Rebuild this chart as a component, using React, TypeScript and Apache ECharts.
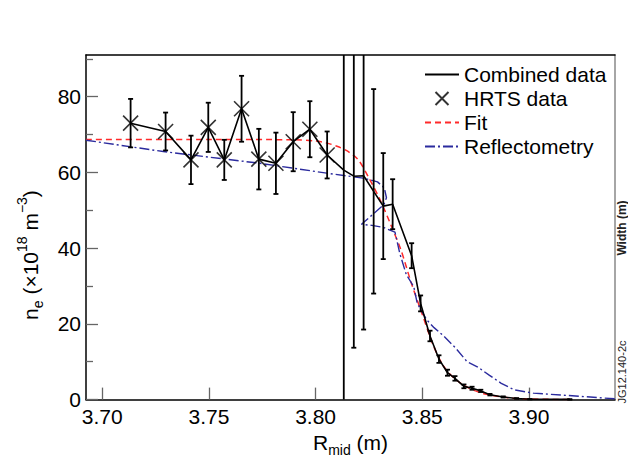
import React, { useEffect, useRef } from "react";
import * as echarts from "echarts";

const FONT = '"Liberation Sans", Arial, Helvetica, sans-serif';

const X_MIN = 3.6924;
const X_MAX = 3.9403;
const Y_MAX = 91;

const xTicks = [3.7, 3.75, 3.8, 3.85, 3.9];
const yTicks = [0, 20, 40, 60, 80];
const yMinorTicks = [10, 30, 50, 70, 90];

// HRTS data (crosses)
const hrtsR = [3.7133, 3.7297, 3.7416, 3.7497, 3.7572, 3.7653, 3.7734, 3.7814, 3.7895, 3.7973, 3.8054];
const hrtsNe = [73.0, 70.8, 63.3, 71.9, 63.3, 76.8, 63.5, 62.4, 68.1, 71.4, 64.6];
const hrtsErr = [6.4, 5.0, 6.4, 6.5, 5.3, 8.7, 8.0, 8.1, 7.8, 7.4, 6.2];

// Combined data beyond the HRTS crosses
const combR = [3.8132, 3.8179, 3.8225, 3.8272, 3.8317, 3.8361, 3.845, 3.8492, 3.8536, 3.8578, 3.8618, 3.8653, 3.8695, 3.8733, 3.8774, 3.8817, 3.8879, 3.8942, 3.9004, 3.9191];
const combNe = [60.6, 59.0, 59.1, 55.0, 51.1, 51.6, 38.0, 25.4, 16.8, 10.7, 7.1, 5.6, 3.5, 3.0, 2.3, 1.3, 0.7, 0.3, 0.1, 0.05];
const combErr = [120, 45.3, 40.6, 27.0, 14.0, 6.6, 3.3, 2.1, 1.4, 1.0, 0.8, 0.6, 0.5, 0.4, 0.3, 0.2, 0.15, 0.1, 0.05, 0.05];

// Fit
const fitR = [3.6924, 3.75, 3.79, 3.8, 3.805, 3.81, 3.815, 3.82, 3.825, 3.83, 3.835, 3.84, 3.845, 3.85, 3.855, 3.86, 3.865, 3.87, 3.875, 3.88, 3.89, 3.9, 3.92];
const fitNe = [68.7, 68.7, 68.6, 68.3, 67.8, 66.9, 65.6, 63.3, 58.5, 53.0, 46.5, 39.5, 30.5, 22.5, 14.5, 8.8, 5.6, 3.6, 2.3, 1.4, 0.5, 0.15, 0.02];

// Reflectometry
const reflR = [3.6924, 3.7286, 3.7739, 3.8052, 3.8223, 3.829, 3.8322, 3.8332, 3.832, 3.8278, 3.8215, 3.8264, 3.8317, 3.8372, 3.8381, 3.8395, 3.8425, 3.846, 3.8476, 3.852, 3.8555, 3.86, 3.8655, 3.871, 3.876, 3.8815, 3.887, 3.893, 3.902, 3.918, 3.9403];
const reflNe = [68.5, 65.5, 62.4, 59.8, 58.5, 57.5, 55.9, 53.3, 51.5, 49.4, 46.3, 46.0, 45.5, 44.2, 42.0, 38.5, 33.0, 29.8, 25.5, 21.1, 19.0, 16.8, 13.7, 10.0, 8.6, 6.4, 4.3, 2.6, 1.7, 1.1, 0.2];

const zip = (a: number[], b: number[]) => a.map((v, i) => [v, b[i]]);
const zip3 = (a: number[], b: number[], c: number[]) => a.map((v, i) => [v, b[i], c[i]]);

const CROSS = "path://M0,0L10,10M10,0L0,10";
const HIDDEN_SYMBOL = { color: "rgba(0,0,0,0)", borderColor: "rgba(0,0,0,0)", borderWidth: 0 };

export default function App() {
  const ref = useRef<HTMLDivElement>(null);
  useEffect(() => {
    const chart = echarts.init(ref.current!, null, { renderer: "svg" });
    const combinedLine = zip(hrtsR, hrtsNe).concat(zip(combR, combNe));
    const errData = zip3(hrtsR, hrtsNe, hrtsErr).concat(zip3(combR, combNe, combErr));
    const mainRich = {
      n: { fontSize: 21, lineHeight: 30, verticalAlign: "middle", fontFamily: FONT, color: "#000" },
      s: { fontSize: 14, lineHeight: 14, verticalAlign: "bottom", fontFamily: FONT, color: "#000" },
      p: { fontSize: 14, lineHeight: 14, verticalAlign: "top", fontFamily: FONT, color: "#000" },
    };
    const option: any = {
      animation: false,
      backgroundColor: "#fff",
      grid: { left: 86, right: 13, top: 55, bottom: 57, containLabel: false },
      legend: {
        orient: "vertical",
        left: 419,
        top: 59,
        itemWidth: 34,
        itemHeight: 13,
        itemGap: 3,
        textStyle: { fontSize: 21, lineHeight: 21, fontFamily: FONT, color: "#000" },
        data: [
          { name: "Combined data", itemStyle: HIDDEN_SYMBOL },
          { name: "HRTS data" },
          { name: "Fit", itemStyle: HIDDEN_SYMBOL },
          { name: "Reflectometry", itemStyle: HIDDEN_SYMBOL },
        ],
      },
      xAxis: [
        {
          type: "value",
          min: X_MIN,
          max: X_MAX,
          name: "{n|R}{s|mid}{n| (m)}",
          nameLocation: "middle",
          nameGap: 22,
          nameTextStyle: { rich: mainRich },
          axisLine: { onZero: false, lineStyle: { color: "#000", width: 1.5 } },
          axisTick: { inside: true, length: 12, customValues: xTicks, lineStyle: { color: "#666", width: 1.3 } },
          axisLabel: {
            customValues: xTicks,
            margin: 6,
            fontSize: 21,
            fontFamily: FONT,
            color: "#000",
            formatter: (v: number) => v.toFixed(2),
          },
          splitLine: { show: false },
        },
        {
          type: "value",
          position: "top",
          min: X_MIN,
          max: X_MAX,
          axisLine: { onZero: false, lineStyle: { color: "#000", width: 1.5 } },
          axisTick: { show: false },
          axisLabel: { show: false },
          splitLine: { show: false },
        },
      ],
      yAxis: [
        {
          type: "value",
          min: 0,
          max: Y_MAX,
          axisLine: { show: true, onZero: false, lineStyle: { color: "#000", width: 1.5 } },
          axisTick: { inside: true, length: 12, customValues: yTicks, lineStyle: { color: "#666", width: 1.3 } },
          axisLabel: { customValues: yTicks, margin: 5, fontSize: 21, fontFamily: FONT, color: "#000" },
          splitLine: { show: false },
        },
        {
          type: "value",
          position: "right",
          min: 0,
          max: Y_MAX,
          axisLine: { show: true, onZero: false, lineStyle: { color: "#888", width: 1.5 } },
          axisTick: { show: false },
          axisLabel: { show: false },
          splitLine: { show: false },
        },
        {
          type: "value",
          position: "left",
          min: 0,
          max: Y_MAX,
          axisLine: { show: false },
          axisTick: { show: true, inside: true, length: 7, customValues: yMinorTicks, lineStyle: { color: "#666", width: 1.3 } },
          axisLabel: { show: false },
          splitLine: { show: false },
        },
      ],
      series: [
        {
          name: "Fit",
          type: "line",
          data: zip(fitR, fitNe),
          symbol: "none",
          smooth: 0.3,
          lineStyle: { color: "#ff2a2a", width: 1.5, type: [6, 4] },
          itemStyle: { color: "#ff2a2a" },
          z: 2,
        },
        {
          name: "Reflectometry",
          type: "line",
          data: zip(reflR, reflNe),
          symbol: "none",
          lineStyle: { color: "#2b2b9e", width: 1.4, type: [10, 3, 2, 3] },
          itemStyle: { color: "#2b2b9e" },
          z: 2,
        },
        {
          name: "Combined data",
          type: "line",
          data: combinedLine,
          symbol: "none",
          lineStyle: { color: "#000", width: 1.6 },
          itemStyle: { color: "#000" },
          z: 3,
        },
        {
          name: "errors",
          type: "custom",
          data: errData,
          z: 4,
          renderItem: (params: any, api: any) => {
            const x = api.value(0);
            const y = api.value(1);
            const e = api.value(2);
            const lo = Math.max(y - e, 0);
            const hi = Math.min(y + e, Y_MAX);
            const p0 = api.coord([x, lo]);
            const p1 = api.coord([x, hi]);
            const style = { stroke: "#000", lineWidth: 1.8 };
            const children: any[] = [
              { type: "line", shape: { x1: p0[0], y1: p0[1], x2: p1[0], y2: p1[1] }, style },
            ];
            if (y - e >= 0) children.push({ type: "line", shape: { x1: p0[0] - 2.5, y1: p0[1], x2: p0[0] + 2.5, y2: p0[1] }, style });
            if (y + e <= Y_MAX) children.push({ type: "line", shape: { x1: p1[0] - 2.5, y1: p1[1], x2: p1[0] + 2.5, y2: p1[1] }, style });
            return { type: "group", children };
          },
        },
        {
          name: "HRTS data",
          type: "scatter",
          data: zip(hrtsR, hrtsNe),
          symbol: CROSS,
          symbolSize: 15,
          itemStyle: { color: "rgba(0,0,0,0)", borderColor: "#000", borderWidth: 1.6 },
          z: 5,
        },
      ],
      graphic: [
        {
          type: "text",
          x: 30,
          y: 255,
          rotation: Math.PI / 2,
          style: {
            text: "{n|n}{s|e}{n| (×10}{p|18}{n| m}{p|−3}{n|)}",
            rich: mainRich,
            align: "center",
            verticalAlign: "middle",
          },
        },
        {
          type: "text",
          x: 622,
          y: 372,
          rotation: Math.PI / 2,
          style: { text: "JG12.140-2c", fontSize: 11, fontFamily: FONT, fill: "#222", align: "center", verticalAlign: "middle" },
        },
        {
          type: "text",
          x: 622,
          y: 228,
          rotation: Math.PI / 2,
          style: { text: "Width (m)", fontSize: 12, fontWeight: "bold", fontFamily: FONT, fill: "#222", align: "center", verticalAlign: "middle" },
        },
      ],
    };
    chart.setOption(option);
    return () => chart.dispose();
  }, []);
  return <div ref={ref} style={{ position: "absolute", left: 0, top: 0, width: 628, height: 462 }} />;
}
